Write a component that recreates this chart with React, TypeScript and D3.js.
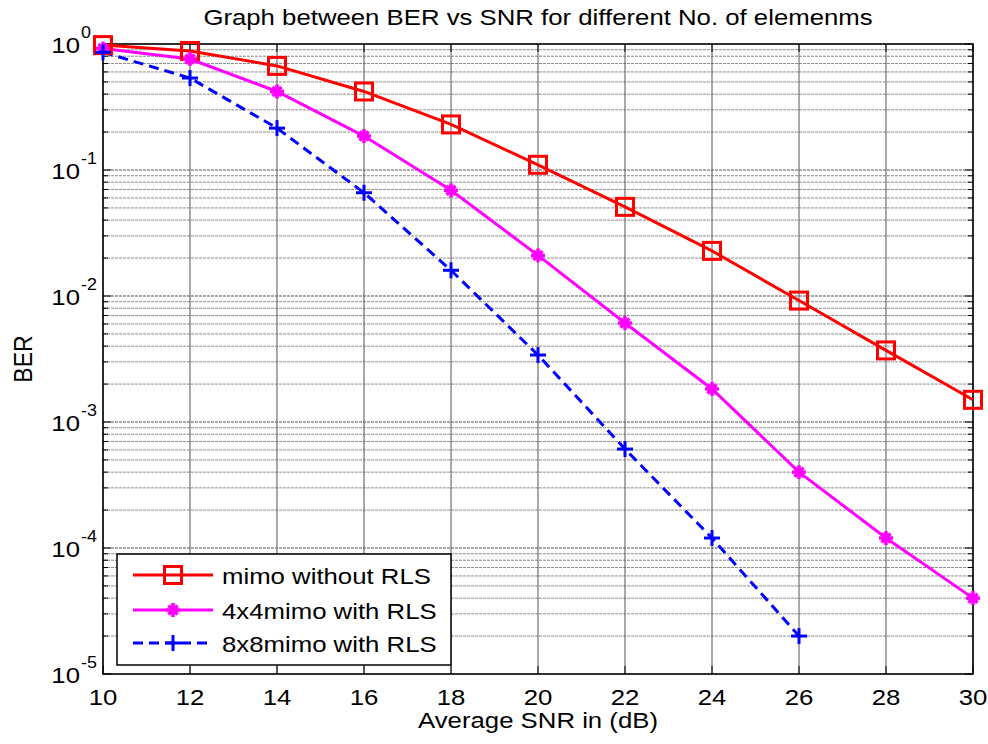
import React from "react";
import * as d3 from "d3";

const snr = [10, 12, 14, 16, 18, 20, 22, 24, 26, 28, 30];
const berNoRLS = [0.98, 0.88, 0.67, 0.42, 0.23, 0.11, 0.051, 0.0228, 0.0092, 0.0037, 0.0015];
const ber4x4 = [0.92, 0.76, 0.42, 0.186, 0.069, 0.021, 0.0061, 0.00183, 0.0004, 0.00012, 0.00004];
const snr8x8 = [10, 12, 14, 16, 18, 20, 22, 24, 26];
const ber8x8 = [0.86, 0.537, 0.215, 0.066, 0.016, 0.0034, 0.00061, 0.00012, 0.00002];
const xTicks = [10, 12, 14, 16, 18, 20, 22, 24, 26, 28, 30];
const yExps = [0, -1, -2, -3, -4, -5];
const legendLabels = ["mimo without RLS", "4x4mimo with RLS", "8x8mimo with RLS"];
const titleText = "Graph between BER vs SNR for different No. of elemenms";
const xLabel = "Average SNR in (dB)";
const yLabel = "BER";

const W = 988, H = 744;
const L = 103, R = 973, T = 44, B = 674;
const SX = 1.12;
const FONT = "'Liberation Sans', Arial, sans-serif";

function Txt({ x, y, anchor = "start", size = 23, children, rotate = false }: any) {
  const tr = rotate
    ? `translate(${x},${y}) scale(${SX},1) rotate(-90)`
    : `translate(${x},${y}) scale(${SX},1)`;
  return (
    <text transform={tr} textAnchor={anchor} fontSize={size} fontFamily={FONT} fill="#000">
      {children}
    </text>
  );
}

export default function App() {
  const x = d3.scaleLinear().domain([10, 30]).range([L, R]);
  const y = d3.scaleLog().domain([1e-5, 1]).range([B, T]);

  const minor: number[] = [];
  for (let e = -5; e < 0; e++) for (let k = 2; k <= 9; k++) minor.push(k * Math.pow(10, e));

  const line = d3.line<[number, number]>().x((d) => x(d[0])).y((d) => y(d[1]));
  const d1 = line(snr.map((s, i) => [s, berNoRLS[i]] as [number, number])) || "";
  const d2 = line(snr.map((s, i) => [s, ber4x4[i]] as [number, number])) || "";
  const d3p = line(snr8x8.map((s, i) => [s, ber8x8[i]] as [number, number])) || "";

  const red = "#ff0000", mag = "#ff00ff", blue = "#0000ff";
  const sq = (cx: number, cy: number, k: any) => (
    <rect key={k} x={cx - 8.5} y={cy - 8.5} width={17} height={17} fill="none" stroke={red} strokeWidth={3} />
  );
  const star = (cx: number, cy: number, k: any) => {
    const s = 7;
    const d = 4.5;
    return (
      <g key={k} stroke={mag} strokeWidth={3.5}>
        <line x1={cx - s} y1={cy} x2={cx + s} y2={cy} />
        <line x1={cx} y1={cy - s} x2={cx} y2={cy + s} />
        <line x1={cx - d} y1={cy - d} x2={cx + d} y2={cy + d} />
        <line x1={cx - d} y1={cy + d} x2={cx + d} y2={cy - d} />
        <circle cx={cx} cy={cy} r={3.5} fill={mag} stroke="none" />
      </g>
    );
  };
  const plus = (cx: number, cy: number, k: any) => {
    const s = 8;
    return (
      <g key={k} stroke={blue} strokeWidth={3}>
        <line x1={cx - s} y1={cy} x2={cx + s} y2={cy} />
        <line x1={cx} y1={cy - s} x2={cx} y2={cy + s} />
      </g>
    );
  };

  const legX = 117, legY = 554, legW = 334, legH = 111;
  const rows = [575, 610, 643];

  return (
    <svg width={W} height={H} style={{ position: "absolute", left: 0, top: 0, background: "#fff" }}>
      <rect x={0} y={0} width={W} height={H} fill="#fff" />
      {/* grid */}
      {minor.map((v, i) => (
        <line key={"mg" + i} x1={L} x2={R} y1={y(v)} y2={y(v)} stroke="#8a8a8a" strokeWidth={1} strokeDasharray="3,1" />
      ))}
      {yExps.map((e) => (
        <line key={"yg" + e} x1={L} x2={R} y1={y(Math.pow(10, e))} y2={y(Math.pow(10, e))} stroke="#555" strokeWidth={1} strokeDasharray="3,1" />
      ))}
      {xTicks.map((t) => (
        <line key={"xg" + t} x1={x(t)} x2={x(t)} y1={T} y2={B} stroke="#555" strokeWidth={1} />
      ))}
      {/* ticks */}
      {xTicks.map((t) => (
        <g key={"xt" + t} stroke="#000" strokeWidth={1}>
          <line x1={x(t)} x2={x(t)} y1={B} y2={B - 8} />
          <line x1={x(t)} x2={x(t)} y1={T} y2={T + 8} />
        </g>
      ))}
      {yExps.map((e) => (
        <g key={"yt" + e} stroke="#000" strokeWidth={1}>
          <line x1={L} x2={L + 8} y1={y(Math.pow(10, e))} y2={y(Math.pow(10, e))} />
          <line x1={R} x2={R - 8} y1={y(Math.pow(10, e))} y2={y(Math.pow(10, e))} />
        </g>
      ))}
      {minor.map((v, i) => (
        <g key={"ymt" + i} stroke="#000" strokeWidth={1}>
          <line x1={L} x2={L + 5} y1={y(v)} y2={y(v)} />
          <line x1={R} x2={R - 5} y1={y(v)} y2={y(v)} />
        </g>
      ))}
      {/* axes box */}
      <rect x={L} y={T} width={R - L} height={B - T} fill="none" stroke="#000" strokeWidth={1.5} />
      {/* tick labels */}
      {xTicks.map((t) => (
        <Txt key={"xl" + t} x={x(t)} y={705} anchor="middle">{String(t)}</Txt>
      ))}
      {yExps.map((e) => (
        <g key={"yl" + e}>
          <Txt x={80} y={y(Math.pow(10, e)) + 8.5} anchor="end">10</Txt>
          <Txt x={81} y={y(Math.pow(10, e)) - 6.5} size={16}>{e === 0 ? "0" : String(e)}</Txt>
        </g>
      ))}
      {/* labels */}
      <Txt x={(L + R) / 2} y={25} anchor="middle" size={23}>{titleText}</Txt>
      <Txt x={(L + R) / 2} y={728} anchor="middle">{xLabel}</Txt>
      <Txt x={32} y={(T + B) / 2} anchor="middle" rotate={true}>{yLabel}</Txt>
      {/* series */}
      <path d={d1} fill="none" stroke={red} strokeWidth={3} />
      <path d={d2} fill="none" stroke={mag} strokeWidth={3} />
      <path d={d3p} fill="none" stroke={blue} strokeWidth={3} strokeDasharray="10,6" />
      {snr.map((s, i) => sq(x(s), y(berNoRLS[i]), "s" + i))}
      {snr.map((s, i) => star(x(s), y(ber4x4[i]), "t" + i))}
      {snr8x8.map((s, i) => plus(x(s), y(ber8x8[i]), "p" + i))}
      {/* legend */}
      <rect x={legX} y={legY} width={legW} height={legH} fill="#fff" stroke="#000" strokeWidth={1.5} />
      <line x1={133} x2={213} y1={rows[0]} y2={rows[0]} stroke={red} strokeWidth={3} />
      {sq(173, rows[0], "ls")}
      <line x1={133} x2={213} y1={rows[1]} y2={rows[1]} stroke={mag} strokeWidth={3} />
      {star(173, rows[1], "lt")}
      <line x1={133} x2={213} y1={rows[2]} y2={rows[2]} stroke={blue} strokeWidth={3} strokeDasharray="10,6" />
      {plus(173, rows[2], "lp")}
      {legendLabels.map((lb, i) => (
        <Txt key={"lg" + i} x={222} y={rows[i] + 8.5}>{lb}</Txt>
      ))}
    </svg>
  );
}
